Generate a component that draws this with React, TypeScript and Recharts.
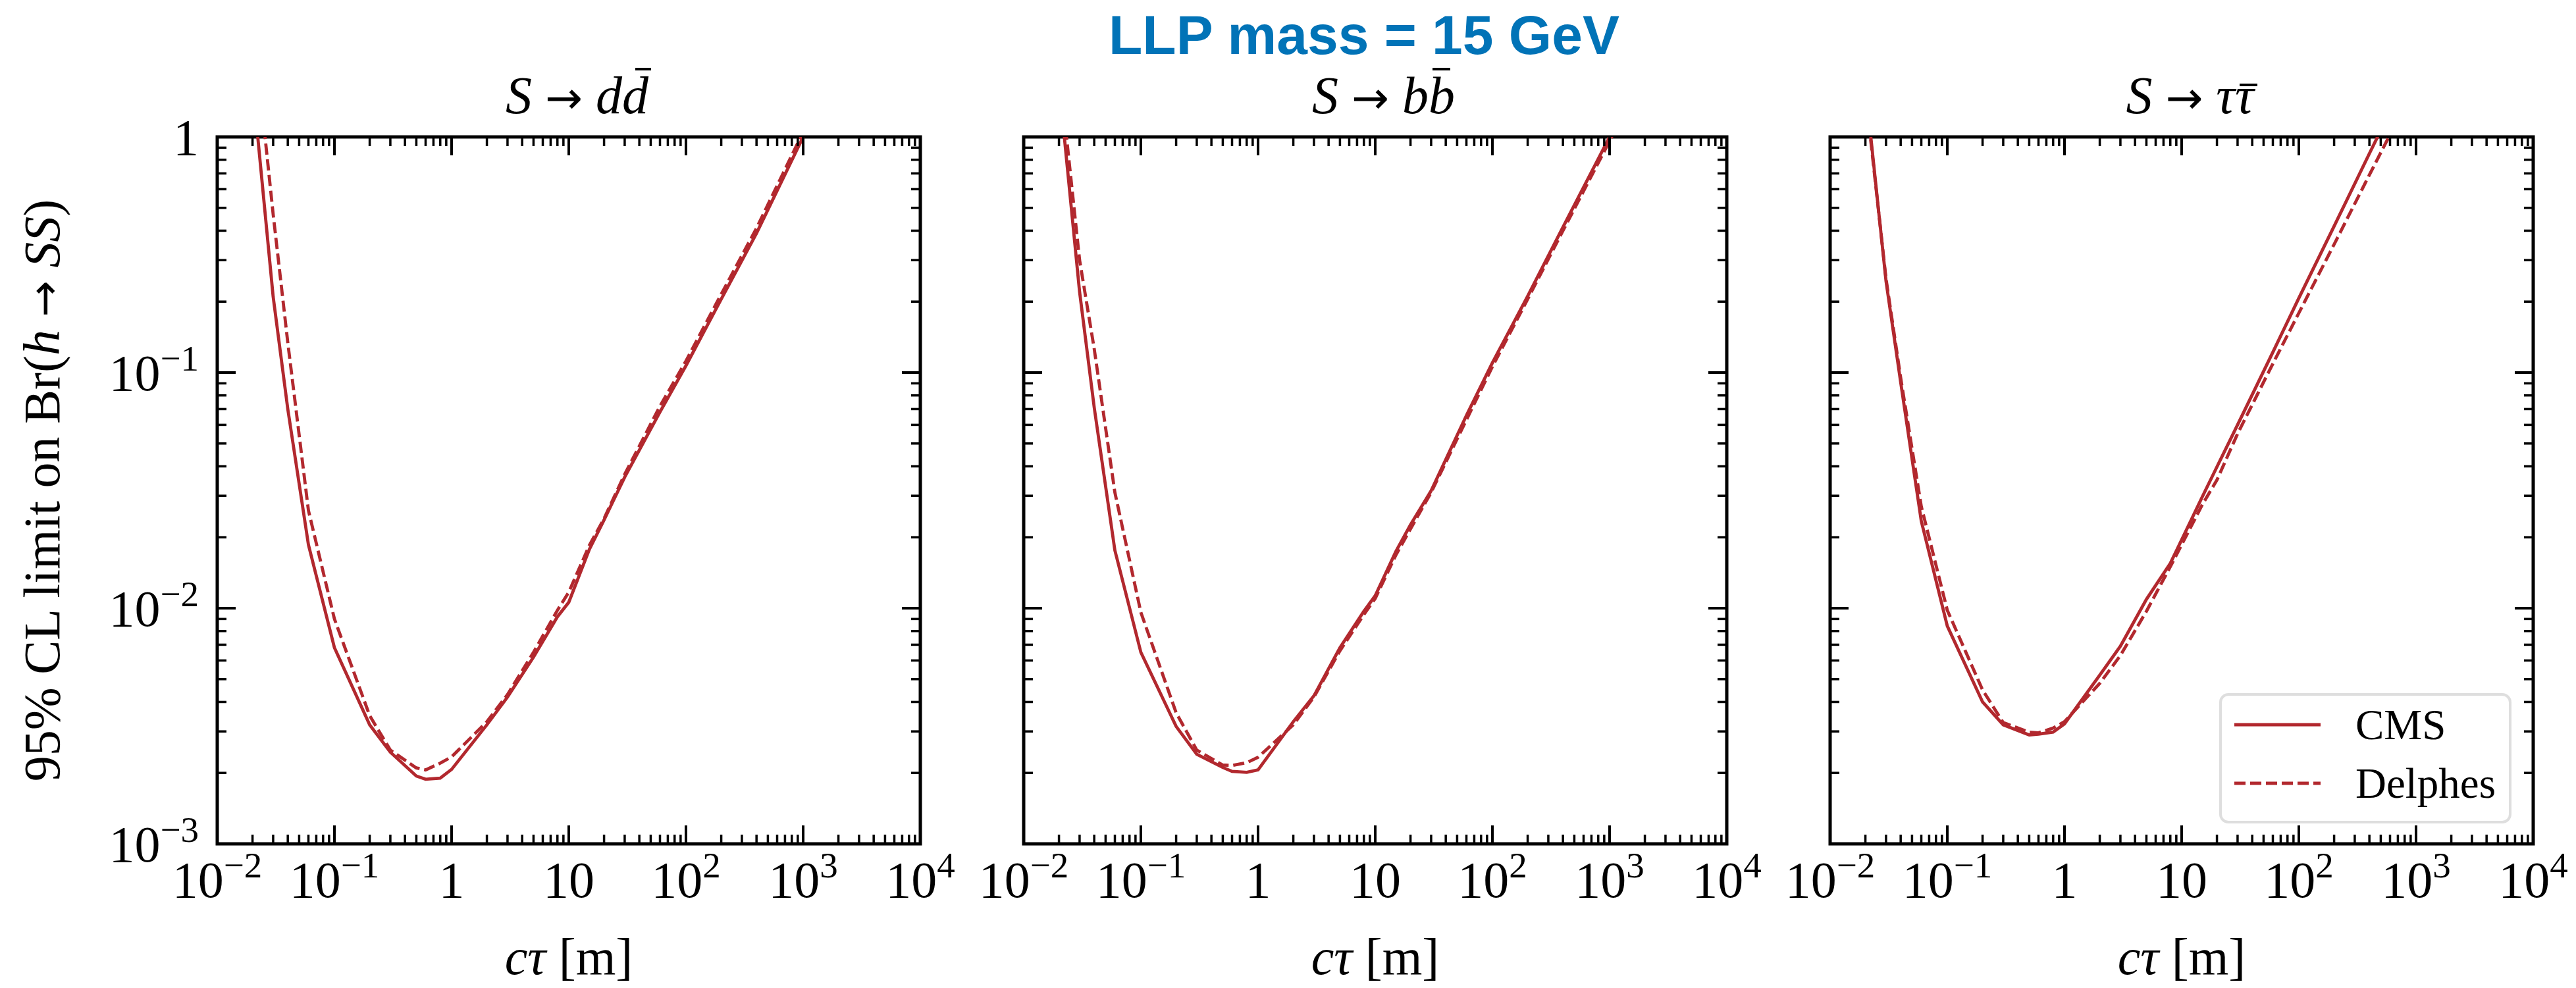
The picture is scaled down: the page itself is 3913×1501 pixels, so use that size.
import React from "react";
import { LineChart, Line, XAxis, YAxis, ReferenceArea, Legend } from "recharts";

// c*tau grid [m] shared by all curves
const ctValues = [0.02, 0.03, 0.04, 0.06, 0.1, 0.2, 0.3, 0.5, 0.6, 0.8, 1, 2, 3, 5, 8, 10, 15, 20, 30, 60, 100, 200, 400, 1000, 2000];

// S -> d dbar
const ddCms = [1.7, 0.21, 0.07, 0.0186, 0.0068, 0.0032, 0.00245, 0.00194, 0.00188, 0.0019, 0.00207, 0.0032, 0.0042, 0.0062, 0.0092, 0.0106, 0.0178, 0.0237, 0.036, 0.068, 0.107, 0.205, 0.39, 1.0, 2.0];
const ddDelphes = [3.2, 0.47, 0.134, 0.026, 0.009, 0.0035, 0.0025, 0.0021, 0.00206, 0.0022, 0.00234, 0.0033, 0.0043, 0.0065, 0.0098, 0.0117, 0.0185, 0.024, 0.037, 0.072, 0.112, 0.215, 0.41, 1.05, 2.1];

// S -> b bbar
const bbCms = [1.7, 0.22, 0.071, 0.0176, 0.0065, 0.00315, 0.0024, 0.00211, 0.00203, 0.00201, 0.00206, 0.0033, 0.00425, 0.0068, 0.0097, 0.0113, 0.0174, 0.0226, 0.0315, 0.0657, 0.11, 0.211, 0.414, 1.0, 2.0];
const bbDelphes = [2.0, 0.3, 0.126, 0.031, 0.0096, 0.0036, 0.0025, 0.00216, 0.00215, 0.00221, 0.00233, 0.0032, 0.0042, 0.0066, 0.0094, 0.011, 0.0168, 0.0217, 0.031, 0.063, 0.106, 0.205, 0.4, 0.96, 1.92];

// S -> tau taubar
const tautauCms = [1.65, 0.244, 0.091, 0.0234, 0.0084, 0.004, 0.0032, 0.0029, 0.00292, 0.00298, 0.00323, 0.0052, 0.0069, 0.0109, 0.0155, 0.0195, 0.0297, 0.0398, 0.06, 0.122, 0.207, 0.418, 0.85, 2.15, 4.3];
const tautauDelphes = [1.55, 0.25, 0.095, 0.027, 0.0098, 0.0045, 0.00327, 0.00298, 0.00296, 0.0031, 0.0033, 0.0048, 0.0063, 0.0097, 0.015, 0.0186, 0.0275, 0.035, 0.055, 0.109, 0.179, 0.35, 0.69, 1.68, 3.3];

// ticks
const xMajorTicks = [0.01, 0.1, 1, 10, 100, 1000, 10000];
const xTickBase = ["10", "10", "1", "10", "10", "10", "10"];
const xTickExp = ["−2", "−1", "", "", "2", "3", "4"];
const yMajorTicks = [0.001, 0.01, 0.1, 1];
const yTickBase = ["10", "10", "10", "1"];
const yTickExp = ["−3", "−2", "−1", ""];
const minorMultipliers = [2, 3, 4, 5, 6, 7, 8, 9];

const seriesNames = ["CMS", "Delphes"];
const mainTitle = "LLP mass = 15 GeV";
const productLetters = ["d", "b", "τ"];

// antiparticle bar over the last letter: [start, end] from the letter's left edge, and height
const barSpans = [[20, 44], [6, 33], [7, 34]];
const barY = [105, 105, 129];

const RED = "#b2282e";
const SERIF = "'Liberation Serif', 'DejaVu Serif', serif";
const ARROW_FONT = "'DejaVu Sans', sans-serif";

const PLOT_TOP = 208;
const PLOT_W = 1068;
const PLOT_H = 1074;
const AXIS_W = 330;
const CHART_W = 1460;
const CHART_H = 1501;
const PANEL_LEFTS = [330, 1555, 2780];

const withMinors = (majors: number[]) => {
  const out: number[] = [];
  majors.forEach((m, i) => {
    out.push(m);
    if (i < majors.length - 1) minorMultipliers.forEach((k) => out.push(+(m * k).toPrecision(6)));
  });
  return out;
};
const xTicks = withMinors(xMajorTicks);
const yTicks = withMinors(yMajorTicks);

const majorIndex = (list: number[], v: number) =>
  list.findIndex((m) => Math.abs(m - v) / m < 1e-6);

const toRows = (cms: number[], delphes: number[]) =>
  ctValues.map((ct, i) => ({ ct, cms: cms[i], delphes: delphes[i] }));

const renderXTick = (props: any) => {
  const { x, y, payload } = props;
  const idx = majorIndex(xMajorTicks, payload.value);
  const len = idx >= 0 ? 28 : 14;
  const w = idx >= 0 ? 4 : 3.5;
  return (
    <g>
      <line x1={x} y1={y} x2={x} y2={y - len} stroke="#000" strokeWidth={w} />
      <line x1={x} y1={y - PLOT_H} x2={x} y2={y - PLOT_H + len} stroke="#000" strokeWidth={w} />
      {idx >= 0 && (
        <text x={x} y={y + 81} textAnchor="middle" fontFamily={SERIF} fontSize={78} fill="#000">
          <tspan>{xTickBase[idx]}</tspan>
          {xTickExp[idx] && (
            <tspan dy={-30} fontSize={55}>
              {xTickExp[idx]}
            </tspan>
          )}
        </text>
      )}
    </g>
  );
};

const makeYTick = (showLabels: boolean) => (props: any) => {
  const { x, y, payload } = props;
  const idx = majorIndex(yMajorTicks, payload.value);
  const len = idx >= 0 ? 28 : 14;
  const w = idx >= 0 ? 4 : 3.5;
  return (
    <g>
      <line x1={x} y1={y} x2={x + len} y2={y} stroke="#000" strokeWidth={w} />
      <line x1={x + PLOT_W} y1={y} x2={x + PLOT_W - len} y2={y} stroke="#000" strokeWidth={w} />
      {showLabels && idx >= 0 && (
        <text x={x - 28} y={y + 27} textAnchor="end" fontFamily={SERIF} fontSize={78} fill="#000">
          <tspan>{yTickBase[idx]}</tspan>
          {yTickExp[idx] && (
            <tspan dy={-30} fontSize={55}>
              {yTickExp[idx]}
            </tspan>
          )}
        </text>
      )}
    </g>
  );
};

const XLabel = () => (
  <text x={AXIS_W + PLOT_W / 2} y={1480} textAnchor="middle" fontFamily={SERIF} fontSize={78} fill="#000">
    <tspan fontStyle="italic">cτ</tspan>
    <tspan> [m]</tspan>
  </text>
);

const YLabel = () => (
  <text
    x={90}
    y={PLOT_TOP + PLOT_H / 2}
    transform={`rotate(-90, 90, ${PLOT_TOP + PLOT_H / 2})`}
    textAnchor="middle"
    fontFamily={SERIF}
    fontSize={78}
    fill="#000"
  >
    <tspan>95% CL limit on Br(</tspan>
    <tspan fontStyle="italic">h</tspan>
    <tspan> </tspan>
    <tspan fontFamily={ARROW_FONT} fontSize={66}>→</tspan>
    <tspan> </tspan>
    <tspan fontStyle="italic">SS</tspan>
    <tspan>)</tspan>
  </text>
);

const renderLegend = (props: any) => {
  const payload = props.payload || [];
  return (
    <svg width={444} height={198} style={{ display: "block" }}>
      <rect x={2} y={2} width={440} height={194} rx={12} ry={12} fill="rgba(255,255,255,0.8)" stroke="#dedede" strokeWidth={4} />
      {payload.map((entry: any, i: number) => {
        const dashed = entry.dataKey === "delphes";
        const cy = i === 0 ? 48 : 137;
        return (
          <g key={`leg-${i}`}>
            <line x1={23} y1={cy} x2={154} y2={cy} stroke={entry.color || RED} strokeWidth={4.8} strokeDasharray={dashed ? "17 7" : undefined} />
            <text x={207} y={cy + 22} fontFamily={SERIF} fontSize={65} fill="#000">
              {entry.value}
            </text>
          </g>
        );
      })}
    </svg>
  );
};

function Panel({ rows, left, showYLabels, showLegend }: any) {
  return (
    <div style={{ position: "absolute", left: left - AXIS_W, top: 0, width: CHART_W, height: CHART_H }}>
      <LineChart width={CHART_W} height={CHART_H} data={rows} margin={{ top: PLOT_TOP, right: CHART_W - AXIS_W - PLOT_W, bottom: 0, left: 0 }}>
        <XAxis
          dataKey="ct"
          type="number"
          scale="log"
          domain={[0.01, 10000]}
          allowDataOverflow
          ticks={xTicks}
          interval={0}
          tick={renderXTick}
          tickLine={false}
          axisLine={false}
          tickSize={0}
          tickMargin={0}
          height={CHART_H - PLOT_TOP - PLOT_H}
          label={XLabel}
        />
        <YAxis
          type="number"
          scale="log"
          domain={[0.001, 1]}
          allowDataOverflow
          ticks={yTicks}
          interval={0}
          tick={makeYTick(showYLabels)}
          tickLine={false}
          axisLine={false}
          tickSize={0}
          tickMargin={0}
          width={AXIS_W}
          label={showYLabels ? YLabel : undefined}
        />
        <Line dataKey="cms" name={seriesNames[0]} type="linear" stroke={RED} strokeWidth={4.8} dot={false} activeDot={false} isAnimationActive={false} />
        <Line dataKey="delphes" name={seriesNames[1]} type="linear" stroke={RED} strokeWidth={4.8} strokeDasharray="17 7" dot={false} activeDot={false} isAnimationActive={false} />
        <ReferenceArea x1={0.01} x2={10000} y1={0.001} y2={1} fill="none" stroke="#000" strokeWidth={5} ifOverflow="visible" />
        {showLegend && (
          <Legend
            layout="horizontal"
            verticalAlign="middle"
            align="center"
            content={renderLegend}
            wrapperStyle={{ position: "absolute", left: 3371 - (left - AXIS_W), top: 1053, width: 444, height: 198 }}
          />
        )}
      </LineChart>
    </div>
  );
}

export default function App() {
  const centers = PANEL_LEFTS.map((l) => l + PLOT_W / 2);
  return (
    <div style={{ position: "absolute", left: 0, top: 0, width: 3913, height: 1501, background: "#fff", overflow: "hidden" }}>
      <Panel rows={toRows(ddCms, ddDelphes)} left={PANEL_LEFTS[0]} showYLabels showLegend={false} />
      <Panel rows={toRows(bbCms, bbDelphes)} left={PANEL_LEFTS[1]} showYLabels={false} showLegend={false} />
      <Panel rows={toRows(tautauCms, tautauDelphes)} left={PANEL_LEFTS[2]} showYLabels={false} showLegend />
      <svg width={3913} height={200} style={{ position: "absolute", left: 0, top: 0, pointerEvents: "none" }}>
        <text x={2072} y={82} textAnchor="middle" fontFamily="'Liberation Sans', Arial, sans-serif" fontWeight="bold" fontSize={84} fill="#0173b7">
          {mainTitle}
        </text>
        {productLetters.map((p, i) => {
          const split = centers[i] + 81;
          return (
            <g key={`sub-${i}`}>
              <text x={split} y={172} textAnchor="end" fontFamily={SERIF} fontSize={80} fill="#000">
                <tspan fontStyle="italic">S</tspan>
                <tspan> </tspan>
                <tspan fontFamily={ARROW_FONT} fontSize={68}>→</tspan>
                <tspan> </tspan>
                <tspan fontStyle="italic">{p}</tspan>
              </text>
              <text x={split} y={172} textAnchor="start" fontFamily={SERIF} fontSize={80} fontStyle="italic" fill="#000">
                {p}
              </text>
              <line x1={split + barSpans[i][0]} y1={barY[i]} x2={split + barSpans[i][1]} y2={barY[i]} stroke="#000" strokeWidth={4} />
            </g>
          );
        })}
      </svg>
    </div>
  );
}
